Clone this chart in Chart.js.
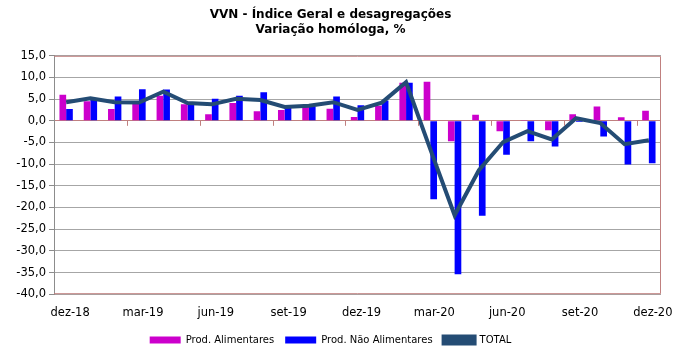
<!DOCTYPE html>
<html>
<head>
<meta charset="utf-8">
<script src="https://cdn.jsdelivr.net/npm/chart.js@4.4.0/dist/chart.umd.min.js"></script>
<style>
  html, body { margin: 0; padding: 0; background: #fff; }
  #wrap { width: 681px; height: 355px; }
</style>
</head>
<body>
<div id="wrap"><canvas id="vvnChart"></canvas></div>
<script>
// Data
const months = ['dez-18', 'jan-19', 'fev-19', 'mar-19', 'abr-19', 'mai-19', 'jun-19', 'jul-19', 'ago-19',
    'set-19', 'out-19', 'nov-19', 'dez-19', 'jan-20', 'fev-20', 'mar-20', 'abr-20', 'mai-20', 'jun-20',
    'jul-20', 'ago-20', 'set-20', 'out-20', 'nov-20', 'dez-20'];
const alimentares = [6.0, 4.5, 2.7, 4.2, 5.8, 3.8, 1.5, 4.1, 2.2, 2.5, 3.2, 2.8, 0.9, 3.5, 8.8, 9.0,
    -4.7, 1.4, -2.4, 0.2, -2.2, 1.5, 3.3, 0.8, 2.3];
const naoAlimentares = [2.7, 4.9, 5.6, 7.3, 7.2, 4.1, 5.1, 5.8, 6.6, 3.3, 3.3, 5.6, 3.6, 4.7, 8.8, -18.1,
    -35.4, -21.9, -7.8, -4.7, -5.9, -0.3, -3.6, -10.1, -9.8];
const total = [4.3, 5.2, 4.3, 4.2, 6.7, 4.1, 3.8, 5.1, 4.8, 3.2, 3.5, 4.3, 2.5, 4.2, 8.9, -6.6,
    -21.8, -11.4, -4.9, -2.4, -4.3, 0.6, -0.5, -5.4, -4.5];

Chart.defaults.font.family = 'DejaVu Sans';
Chart.defaults.font.size = 10;
Chart.defaults.color = '#000';

const borderColor = '#C0807F';

// frame, zero line and the small category tick marks
const framePlugin = {
    id: 'frame',
    afterDatasetsDraw(chart) {
        const { ctx, chartArea: a, scales } = chart;
        const y0 = scales.y.getPixelForValue(0);
        ctx.save();
        ctx.strokeStyle = borderColor;
        ctx.lineWidth = 1;
        ctx.beginPath();
        ctx.moveTo(a.left, a.top + 0.5);
        ctx.lineTo(a.right - 0.5, a.top + 0.5);
        ctx.lineTo(a.right - 0.5, a.bottom - 0.5);
        ctx.lineTo(a.left, a.bottom - 0.5);
        ctx.stroke();
        ctx.beginPath();
        for (let i = 3; i < months.length; i += 3) {
            const x = Math.round((scales.x.getPixelForValue(i - 1) + scales.x.getPixelForValue(i)) / 2) + 0.5;
            ctx.moveTo(x, y0);
            ctx.lineTo(x, y0 + 5);
        }
        ctx.stroke();
        ctx.restore();
    }
};

const ctx = document.getElementById('vvnChart').getContext('2d');
new Chart(ctx, {
    type: 'bar',
    data: {
        labels: months,
        datasets: [
            {
                label: 'Prod. Alimentares',
                data: alimentares,
                backgroundColor: '#CC00CC',
                order: 1
            },
            {
                label: 'Prod. Não Alimentares',
                data: naoAlimentares,
                backgroundColor: '#0000FF',
                order: 1
            },
            {
                type: 'line',
                label: 'TOTAL',
                data: total,
                borderColor: '#244C74',
                backgroundColor: '#244C74',
                borderWidth: 4,
                pointRadius: 0,
                tension: 0,
                order: 0
            }
        ]
    },
    options: {
        responsive: true,
        maintainAspectRatio: false,
        animation: false,
        layout: { padding: { left: 0, right: 20, top: 6, bottom: 0 } },
        datasets: {
            bar: { categoryPercentage: 0.55, barPercentage: 1.0 }
        },
        plugins: {
            title: {
                display: true,
                text: ['VVN - Índice Geral e desagregações', 'Variação homóloga, %'],
                font: { size: 12, weight: 'bold' },
                lineHeight: 1.4,
                padding: { top: 2, bottom: 19 }
            },
            legend: {
                position: 'bottom',
                labels: {
                    boxWidth: 31,
                    boxHeight: 7,
                    padding: 11,
                    font: { size: 10 },
                    sort: (a, b) => a.datasetIndex - b.datasetIndex
                }
            },
            tooltip: { enabled: false }
        },
        scales: {
            x: {
                grid: { display: false },
                border: { display: false },
                ticks: {
                    autoSkip: false,
                    maxRotation: 0,
                    padding: 4,
                    labelOffset: 4,
                    font: { size: 11.5 },
                    callback: (v, i) => (i % 3 === 0 ? months[i] : '')
                }
            },
            y: {
                min: -40,
                max: 15,
                afterFit: (scale) => { scale.width = 54; },
                border: { display: true, color: '#8C8C8C' },
                grid: {
                    color: (c) => (c.tick && c.tick.value === 0 ? borderColor : '#A6A6A6'),
                    tickLength: 5,
                    tickColor: '#8C8C8C'
                },
                ticks: {
                    stepSize: 5,
                    padding: 3,
                    font: { size: 11.5 },
                    callback: (v) => v.toFixed(1).replace('.', ',')
                }
            }
        }
    },
    plugins: [framePlugin]
});
</script>
</body>
</html>
